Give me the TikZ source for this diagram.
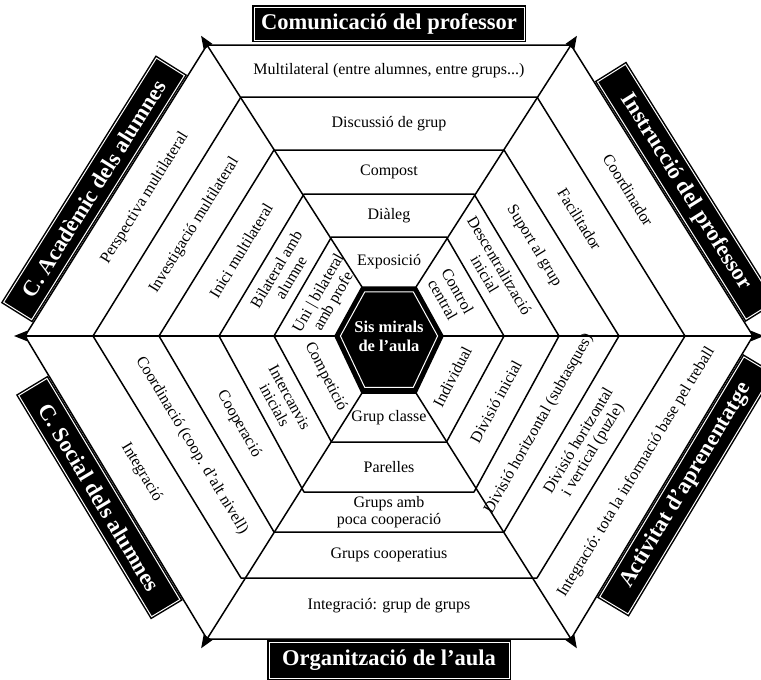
\documentclass[tikz,border=0pt]{standalone}
\usepackage{fontspec}
\setmainfont{Liberation Serif}
\usetikzlibrary{calc,arrows.meta}
\begin{document}
\begin{tikzpicture}[x=1pt,y=-1pt,
  ring/.style={line width=1.5pt, line join=round},
  axis/.style={line width=1.5pt, -{Triangle[length=13pt,width=10pt]}},
  band/.style={font=\fontsize{16}{17}\selectfont, align=center, inner sep=0pt},
  tag/.style={fill=black, draw=black, double=white, double distance=1pt, line width=1.5pt,
    text=white, font=\bfseries\fontsize{22.5}{23}\selectfont, inner xsep=6pt, inner ysep=2pt,
    minimum height=33pt, outer sep=3pt},
  hub/.style={text=white, font=\bfseries\fontsize{16.5}{19}\selectfont, align=center, inner sep=0pt},
]
\useasboundingbox (0,0) rectangle (761,680);
\def\cx{389}\def\cy{336}
\coordinate (C) at (\cx,\cy);
\foreach \k/\a/\t/\b in {0/364/45/639, 1/296/97/578, 2/230/150/532, 3/170/194/492, 4/115/237/442, 5/54/287/393}{
  \coordinate (L\k) at (\cx-\a,\cy);
  \coordinate (R\k) at (\cx+\a,\cy);
  \coordinate (TL\k) at (\cx-\a/2,\t);
  \coordinate (TR\k) at (\cx+\a/2,\t);
  \coordinate (BL\k) at (\cx-\a/2,\b);
  \coordinate (BR\k) at (\cx+\a/2,\b);
}
% rings
\foreach \k in {0,...,4}
  \draw[ring] (L\k) -- (TL\k) -- (TR\k) -- (R\k) -- (BR\k) -- (BL\k) -- cycle;
% axes
\foreach \v in {L,TL,TR,R,BR,BL}{
  \coordinate (tip\v) at ($(\v0)!-11pt!(\v5)$);
  \draw[axis] (\v5) -- (tip\v);
}
% hub
\draw[ring, fill=black] (L5) -- (TL5) -- (TR5) -- (R5) -- (BR5) -- (BL5) -- cycle;
\draw[white, line width=1pt, line join=round] ($(C)!0.9!(L5)$) -- ($(C)!0.9!(TL5)$) -- ($(C)!0.9!(TR5)$) -- ($(C)!0.9!(R5)$) -- ($(C)!0.9!(BR5)$) -- ($(C)!0.9!(BL5)$) -- cycle;
\node[hub] (hubtext) at (\cx,\cy) {Sis mirals\\de l'aula};

% top sector
\node[band] (tp0) at (\cx,71) {Multilateral (entre alumnes, entre grups...)};
\node[band] (tp1) at (\cx,124) {Discussió de grup};
\node[band] (tp2) at (\cx,172) {Compost};
\node[band] (tp3) at (\cx,216) {Diàleg};
\node[band] (tp4) at (\cx,262) {Exposició};
% bottom sector
\node[band] (bt4) at (\cx,418) {Grup classe};
\node[band] (bt3) at (\cx,467) {Parelles};
\node[band] (bt2) at (\cx,512) {Grups amb\\poca cooperació};
\node[band] (bt1) at (\cx,555) {Grups cooperatius};
\node[band] (bt0) at (\cx,606) {Integració: grup de grups};

% upper-left sector
\foreach \j/\n/\txt in {0/1/{Perspectiva multilateral},1/2/{Investigació multilateral},2/3/{Inici multilateral},3/4/{Bilateral amb\\alumne},4/5/{Uni \textbar{} bilateral\\amb profe}}
  \path ($(L\j)!.5!(L\n)$) -- ($(TL\j)!.5!(TL\n)$) node[band, sloped, pos=0.52] (ul\j) {\txt};
% upper-right sector
\foreach \j/\n/\txt in {0/1/{Coordinador},1/2/{Facilitador},2/3/{Suport al grup},3/4/{Descentralització\\inicial},4/5/{Control\\central}}
  \path ($(TR\j)!.5!(TR\n)$) -- ($(R\j)!.5!(R\n)$) node[band, sloped, pos=0.45] (ur\j) {\txt};
% lower-right sector
\foreach \j/\n/\txt in {0/1/{Integració: tota la informació base pel treball},1/2/{Divisió horitzontal\\i vertical (puzle)},2/3/{Divisió horitzontal (subtasques)},3/4/{Divisió inicial},4/5/{Individual}}
  \path ($(BR\j)!.5!(BR\n)$) -- ($(R\j)!.5!(R\n)$) node[band, sloped, midway] (lr\j) {\txt};
% lower-left sector
\foreach \j/\n/\txt in {0/1/{Integració},1/2/{Coordinació (coop. d'alt nivell)},2/3/{Cooperació},3/4/{Intercanvis\\inicials},4/5/{Competició}}
  \path ($(L\j)!.5!(L\n)$) -- ($(BL\j)!.5!(BL\n)$) node[band, sloped, midway] (ll\j) {\txt};

% category tags
\node[tag, anchor=south, minimum width=270pt] (tagT) at ($(TL0)!0.5!(TR0)+(0,-2)$) {Comunicació del professor};
\node[tag, anchor=north, minimum width=240pt, minimum height=36pt] (tagB) at ($(BL0)!0.5!(BR0)$) {Organització de l'aula};
\path (L0) -- (TL0) node[tag, sloped, pos=0.47, anchor=south, minimum width=288pt] (tagUL) {C. Acadèmic dels alumnes};
\path (TR0) -- (R0) node[tag, sloped, pos=0.54, anchor=south, minimum width=280pt] (tagUR) {Instrucció del professor};
\path (BR0) -- (R0) node[tag, sloped, pos=0.54, anchor=north, minimum width=280pt] (tagLR) {Activitat d'aprenentatge};
\path (L0) -- (BL0) node[tag, sloped, pos=0.5, anchor=north, minimum width=258pt] (tagLL) {C. Social dels alumnes};
\end{tikzpicture}
\end{document}
